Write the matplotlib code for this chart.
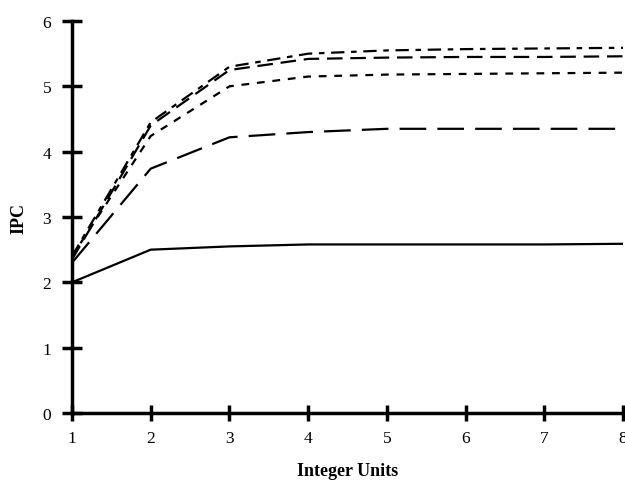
import matplotlib
matplotlib.use("Agg")
import matplotlib.pyplot as plt

plt.rcParams['font.family'] = ['Liberation Serif', 'DejaVu Serif']

units = [1, 2, 3, 4, 5, 6, 7, 8]

# IPC per configuration
ipc_solid = [2.00, 2.50, 2.55, 2.58, 2.58, 2.58, 2.58, 2.59]
ipc_long = [2.30, 3.74, 4.22, 4.30, 4.35, 4.35, 4.35, 4.35]
ipc_short = [2.40, 4.24, 5.00, 5.15, 5.18, 5.19, 5.20, 5.21]
ipc_medium = [2.35, 4.40, 5.25, 5.42, 5.44, 5.45, 5.45, 5.46]
ipc_top = [2.40, 4.45, 5.30, 5.50, 5.55, 5.57, 5.58, 5.59]

fig = plt.figure(figsize=(6.25, 4.85), dpi=100)
ax = fig.add_axes([0.1152, 0.1464, 0.8816, 0.8082])

lw = 1.6
ax.plot(units, ipc_solid, color="black", lw=lw, solid_capstyle="butt")
ax.plot(units, ipc_long, color="black", lw=lw, dashes=(12, 5))
ax.plot(units, ipc_short, color="black", lw=lw, dashes=(3.5, 3.5))
ax.plot(units, ipc_medium, color="black", lw=lw, dashes=(7, 3.5))
ax.plot(units, ipc_top, color="black", lw=lw, dashes=(6, 3, 2.5, 3))

ax.set_xlim(1, 8)
ax.set_ylim(0, 6)
ax.set_xticks(units)
ax.set_yticks(range(0, 7))

for side in ("top", "right"):
    ax.spines[side].set_visible(False)
for side in ("left", "bottom"):
    ax.spines[side].set_linewidth(2.5)

ax.tick_params(axis="y", direction="inout", length=14, width=2.5, pad=8,
               labelsize=12.5)
ax.tick_params(axis="x", direction="inout", length=12, width=2.5, pad=6,
               labelsize=12.5)

ax.set_xlabel("Integer Units", fontsize=13, fontweight="bold", labelpad=12)
ax.set_ylabel("IPC", fontsize=13, fontweight="bold", labelpad=11)

fig.savefig("out.png", dpi=100)
